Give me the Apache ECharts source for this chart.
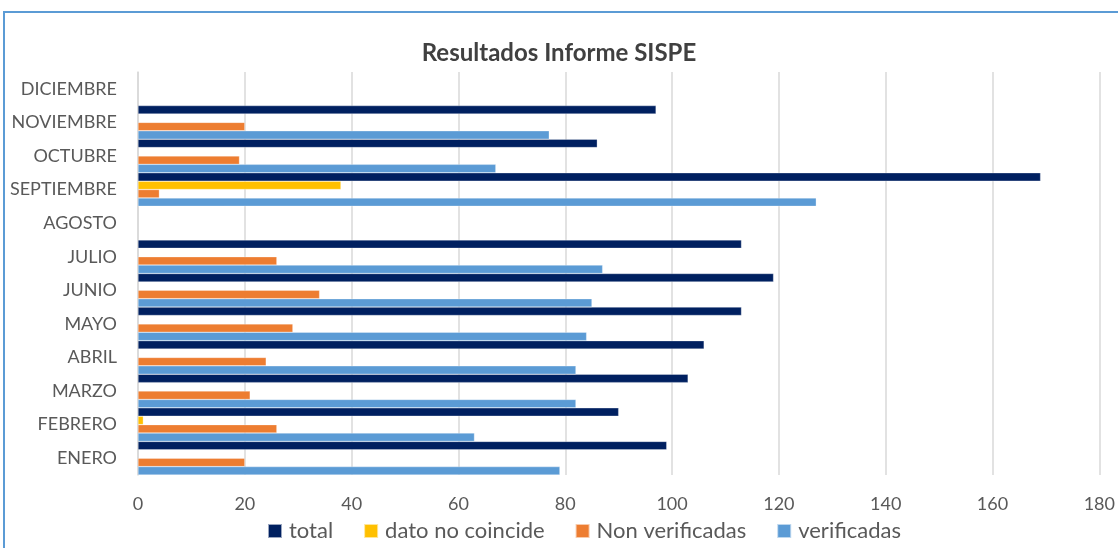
<!DOCTYPE html>
<html>
<head>
<meta charset="utf-8">
<script src="https://cdn.jsdelivr.net/npm/echarts@6/dist/echarts.min.js"></script>
<style>
  html, body { margin: 0; padding: 0; background: #fff; }
  #chart { width: 1118px; height: 548px; }
</style>
</head>
<body>
<div id="chart"></div>
<script>
// meses de abajo hacia arriba
const meses = ['ENERO', 'FEBRERO', 'MARZO', 'ABRIL', 'MAYO', 'JUNIO', 'JULIO', 'AGOSTO', 'SEPTIEMBRE', 'OCTUBRE', 'NOVIEMBRE', 'DICIEMBRE'];
const total = [99, 90, 103, 106, 113, 119, 113, null, 169, 86, 97, null];
const datoNoCoincide = [null, 1, null, null, null, null, null, null, 38, null, null, null];
const nonVerificadas = [20, 26, 21, 24, 29, 34, 26, null, 4, 19, 20, null];
const verificadas = [79, 63, 82, 82, 84, 85, 87, null, 127, 67, 77, null];
const ejeX = [0, 20, 40, 60, 80, 100, 120, 140, 160, 180];

const textColor = '#595959';
const fontFam = 'Lato, "Open Sans", sans-serif';

const chart = echarts.init(document.getElementById('chart'));

function serie(name, data, color) {
    return {
        name: name, type: 'bar', data: data,
        barGap: '0%', barCategoryGap: '0%',
        itemStyle: { color: color, borderColor: 'rgba(255,255,255,0.6)', borderWidth: 0.5 },
        emphasis: { disabled: true }
    };
}

chart.setOption({
    animation: false,
    backgroundColor: '#fff',
    textStyle: { fontFamily: fontFam },
    title: {
        text: 'Resultados Informe SISPE',
        left: 'center', top: 36,
        textStyle: { fontSize: 24, fontWeight: 'bold', color: '#404040', fontFamily: fontFam }
    },
    graphic: [{
        type: 'rect', silent: true,
        shape: { x: 4, y: 12, width: 1300, height: 700 },
        style: { fill: 'none', stroke: '#5B9BD5', lineWidth: 2 }
    }],
    legend: {
        data: ['total', 'dato no coincide', 'Non verificadas', 'verificadas'],
        bottom: 1, left: 262,
        icon: 'rect', itemWidth: 14, itemHeight: 14, itemGap: 30,
        textStyle: { fontSize: 22, color: textColor, fontFamily: fontFam, padding: [0, 0, 0, 2] }
    },
    grid: { left: 138, right: 15, top: 72, bottom: 73, containLabel: false },
    xAxis: {
        type: 'value', min: ejeX[0], max: ejeX[ejeX.length - 1], interval: 20,
        axisLine: { show: false }, axisTick: { show: false },
        axisLabel: { fontSize: 18, color: textColor, margin: 20, fontFamily: fontFam },
        splitLine: { lineStyle: { color: '#D9D9D9', width: 1.5 } }
    },
    yAxis: {
        type: 'category', data: meses,
        axisLine: { show: true, lineStyle: { color: '#D9D9D9', width: 1.5 } },
        axisTick: { show: false },
        axisLabel: { fontSize: 18, color: textColor, margin: 21, fontFamily: fontFam }
    },
    series: [
        serie('total', total, '#002060'),
        serie('dato no coincide', datoNoCoincide, '#FFC000'),
        serie('Non verificadas', nonVerificadas, '#ED7D31'),
        serie('verificadas', verificadas, '#5B9BD5')
    ]
});
</script>
</body>
</html>
